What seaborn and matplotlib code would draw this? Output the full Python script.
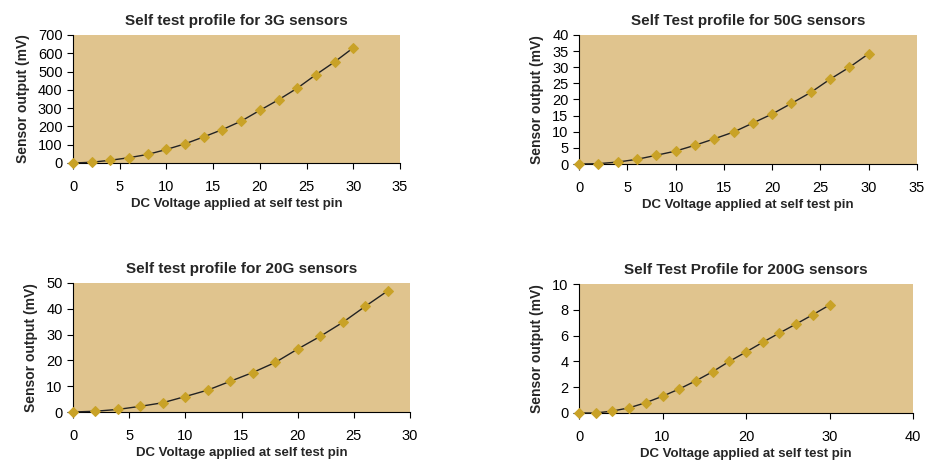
import matplotlib
matplotlib.use("Agg")
import matplotlib.pyplot as plt
import seaborn as sns
import pandas as pd

# ---- data ------------------------------------------------------------------
volts_30 = [0, 2, 4, 6, 8, 10, 12, 14, 16, 18, 20, 22, 24, 26, 28, 30]
volts_28 = [0, 2, 4, 6, 8, 10, 12, 14, 16, 18, 20, 22, 24, 26, 28]

out_3g = [0, 4, 15, 29, 47, 74, 105, 143, 183, 229, 288, 346, 409, 483, 553, 630]
out_50g = [0, 0.1, 0.6, 1.45, 2.7, 4.0, 5.8, 7.8, 9.9, 12.7, 15.5, 18.8, 22.2, 26.3, 30.0, 34.2]
out_20g = [0, 0.3, 1.0, 2.2, 3.6, 6.0, 8.5, 11.9, 15.3, 19.2, 24.4, 29.3, 34.7, 40.9, 46.9]
out_200g = [0, 0, 0.15, 0.4, 0.8, 1.3, 1.86, 2.5, 3.2, 4.0, 4.73, 5.48, 6.2, 6.9, 7.62, 8.37]

titles = [
    "Self test profile for 3G sensors",
    "Self Test profile for 50G sensors",
    "Self test profile for 20G sensors",
    "Self Test Profile for 200G sensors",
]

BG = "#E0C48E"
MARK = "#C9A227"

sns.set_theme(style="ticks")
plt.rcParams["font.family"] = ["Liberation Sans", "DejaVu Sans"]

fig = plt.figure(figsize=(9.33, 4.62), dpi=100)
W, H = 933, 462


def make_ax(left, top, right, bottom):
    return fig.add_axes([left / W, 1 - bottom / H, (right - left) / W, (bottom - top) / H])


panels = [
    # (rect px, x, y, title, xlim, xstep, ylim, ystep)
    ((73, 35, 400, 163), volts_30, out_3g, titles[0], 35, 5, 700, 100),
    ((579, 35, 917, 164), volts_30, out_50g, titles[1], 35, 5, 40, 5),
    ((73, 283, 410, 412), volts_28, out_20g, titles[2], 30, 5, 50, 10),
    ((579, 284, 913, 413), volts_30, out_200g, titles[3], 40, 10, 10, 2),
]

for rect, xs, ys, title, xmax, xstep, ymax, ystep in panels:
    ax = make_ax(*rect)
    df = pd.DataFrame({"volt": xs, "out": ys})
    sns.lineplot(data=df, x="volt", y="out", ax=ax, color="#222222", lw=1.0,
                 marker="D", markersize=5.5, markerfacecolor=MARK,
                 markeredgecolor=MARK, clip_on=False, zorder=5)
    ax.set_facecolor(BG)
    ax.set_xlim(0, xmax)
    ax.set_ylim(0, ymax)
    ax.set_xticks(range(0, xmax + 1, xstep))
    ax.set_yticks(range(0, ymax + 1, ystep))
    for s in ["top", "right"]:
        ax.spines[s].set_visible(False)
    for s in ["left", "bottom"]:
        ax.spines[s].set_color("black")
        ax.spines[s].set_linewidth(0.8)
    ax.tick_params(axis="both", direction="out", length=4, width=0.8,
                   labelsize=10.5, colors="black")
    ax.tick_params(axis="x", pad=8)
    ax.set_title(title, fontsize=11, fontweight="bold", pad=7)
    ax.set_xlabel("DC Voltage applied at self test pin", fontsize=9.5,
                  fontweight="bold", labelpad=3)
    ax.set_ylabel("Sensor output (mV)", fontsize=10, fontweight="bold", labelpad=6)

fig.savefig("out.png", dpi=100)
